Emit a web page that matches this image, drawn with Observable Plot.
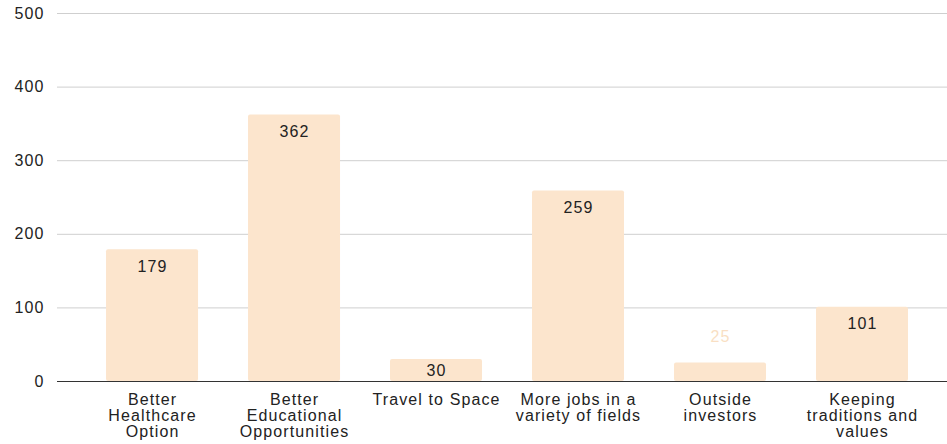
<!DOCTYPE html>
<html>
<head>
<meta charset="utf-8">
<script src="https://cdn.jsdelivr.net/npm/d3@7"></script>
<script src="https://cdn.jsdelivr.net/npm/@observablehq/plot@0.6"></script>
<style>
  body { margin: 0; background: #fff; }
  #chart svg { display: block; }
  #chart svg text { letter-spacing: 1.1px; }
</style>
</head>
<body>
<div id="chart"></div>
<script>
const categories = [
  "Better\nHealthcare\nOption",
  "Better\nEducational\nOpportunities",
  "Travel to Space",
  "More jobs in a\nvariety of fields",
  "Outside\ninvestors",
  "Keeping\ntraditions and\nvalues"
];
const values = [179, 362, 30, 259, 25, 101];
const yTicks = [0, 100, 200, 300, 400, 500];

const data = categories.map((c, i) => ({cat: c, v: values[i]}));
const font = "'Liberation Sans', Arial, sans-serif";

const chart = Plot.plot({
  width: 947,
  height: 444,
  marginLeft: 57,
  marginRight: 0,
  marginTop: 13,
  marginBottom: 63,
  style: {fontFamily: font, fontSize: "16px", color: "#222", background: "#fff"},
  x: {domain: categories, paddingInner: 0.352, paddingOuter: 0.31, align: 0.557, round: false, label: null},
  y: {domain: [0, 500], label: null},
  marks: [
    Plot.ruleY(yTicks.filter(t => t > 0), {stroke: "#cfcfcf", strokeWidth: 1}),
    Plot.barY(data, {x: "cat", y: "v", fill: "#fce5cd", rx: 2}),
    Plot.ruleY([0], {stroke: "#333", strokeWidth: 1}),
    Plot.axisY({ticks: yTicks, tickSize: 0, tickPadding: 13, fontSize: 16, fill: "#222", label: null}),
    Plot.axisX({tickSize: 0, tickPadding: 12, fontSize: 16, lineHeight: 1.0, fill: "#222", label: null}),
    Plot.text(data.filter(d => d.v > 40), {x: "cat", y: "v", text: d => String(d.v), dy: 17, fontSize: 16, fill: "#222"}),
    Plot.text(data.filter(d => d.v > 25 && d.v <= 40), {x: "cat", y: d => d.v / 2, text: d => String(d.v), fontSize: 16, fill: "#222"}),
    Plot.text(data.filter(d => d.v <= 25), {x: "cat", y: "v", text: d => String(d.v), dy: -26, fontSize: 16, fill: "#f9dfc4"})
  ]
});
document.getElementById("chart").append(chart);
</script>
</body>
</html>
